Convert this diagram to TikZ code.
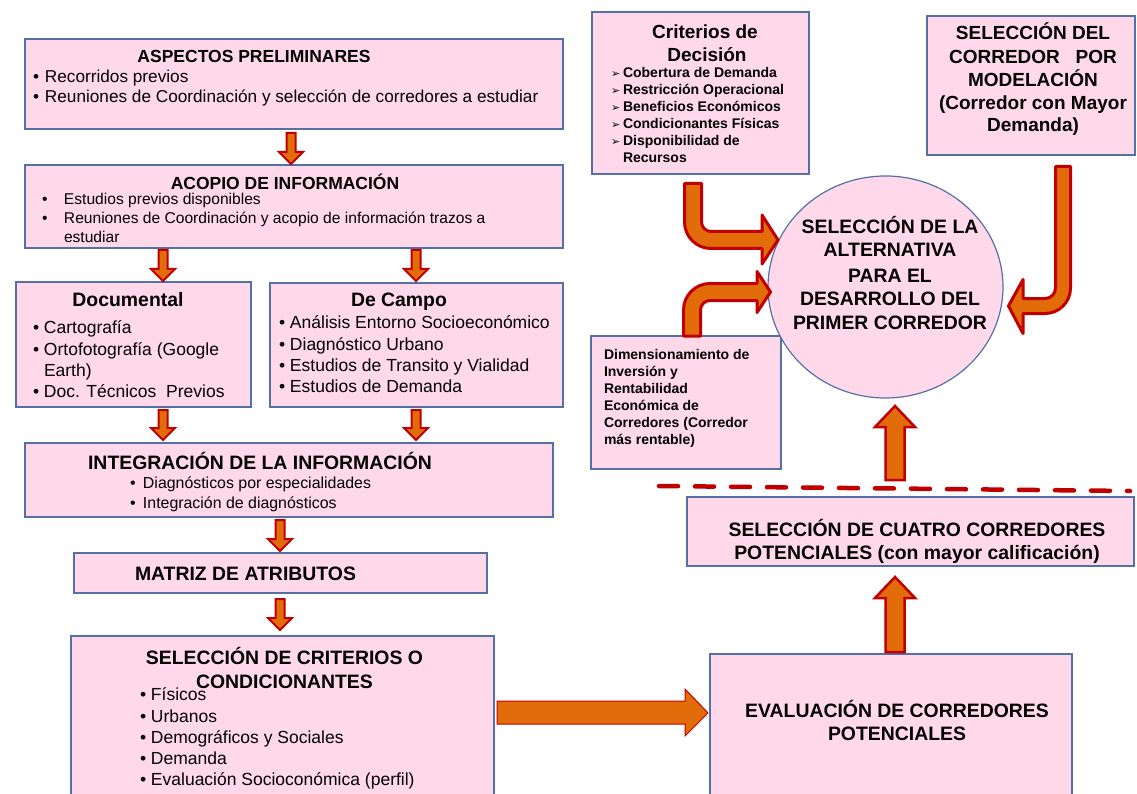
\documentclass[tikz,border=0pt]{standalone}
\usepackage{fontspec}
\setmainfont{Liberation Sans}
\newfontfamily\symfont{DejaVu Sans}
\usetikzlibrary{fit,shapes.geometric}
\definecolor{boxfill}{RGB}{255,217,234}
\definecolor{boxline}{RGB}{84,112,165}
\definecolor{arrfill}{RGB}{227,108,10}
\definecolor{arrline}{RGB}{192,0,0}
\newcommand\fsz[2]{\fontsize{#1}{#2}\selectfont}
\newcommand\dnarrow[3]{%
  \draw[smarrow] ({#1-4.5},#2) -- ({#1+4.5},#2) -- ({#1+4.5},{#3-12}) -- ({#1+12},{#3-12}) -- (#1,#3) -- ({#1-12},{#3-12}) -- ({#1-4.5},{#3-12}) -- cycle;}
\newcommand\uparr[3]{%
  \draw[uparrow] ({#1-9.5},#2) -- ({#1+9.5},#2) -- ({#1+9.5},{#3+21}) -- ({#1+20},{#3+21}) -- (#1,#3) -- ({#1-20},{#3+21}) -- ({#1-9.5},{#3+21}) -- cycle;}
\begin{document}
\begin{tikzpicture}[x=1pt,y=-1pt,
  box/.style={draw=boxline, fill=boxfill, line width=1.2pt, inner sep=0pt, rectangle},
  tx/.style={inner sep=0pt, outer sep=0pt},
  smarrow/.style={draw=arrline, fill=arrfill, line width=2pt, line join=miter},
  uparrow/.style={draw=arrline, fill=arrfill, line width=2.5pt, line join=miter},
  bent/.style={draw=arrline, fill=arrfill, line width=3pt, line join=round},
  hd/.style={tx, anchor=base, font=\bfseries\fsz{19.4}{23}},
  ]
\useasboundingbox (0,0) rectangle (1137,794);
\clip (0,0) rectangle (1137,794);

% boxes
\node[box, fit={(25,39)(563,129)}] (asp) {};
\node[box, fit={(25,165)(563,248)}] (aco) {};
\node[box, fit={(16,282)(251,407)}] (doc) {};
\node[box, fit={(270,283)(563,407)}] (cam) {};
\node[box, fit={(25,443)(553,517)}] (int) {};
\node[box, fit={(74,553)(487,593)}] (mat) {};
\node[box, fit={(71,636)(494,800)}] (sel) {};
\node[box, fit={(592,12)(809,174)}] (cri) {};
\node[box, fit={(927,16)(1135,155)}] (mod) {};
\node[box, fit={(591,336)(781,469)}] (dim) {};
\node[box, fit={(687,497)(1134,566)}] (cua) {};
\node[box, fit={(710,654)(1072,800)}] (eva) {};
\node[box, ellipse, minimum width=235pt, minimum height=222pt] (alt) at (885.5,287) {};

% small down arrows
\dnarrow{291}{133}{164}
\dnarrow{163}{250}{281}
\dnarrow{416}{250}{281}
\dnarrow{163}{410}{440}
\dnarrow{416}{410}{440}
\dnarrow{280}{520}{551}
\dnarrow{280}{599}{630}

% big up arrows
\uparr{895}{480}{406}
\uparr{895}{652}{577}

% big right arrow
\draw[draw=arrline, fill=arrfill, line width=1pt] (497,701) -- (685,701) -- (685,689) -- (708,713) -- (685,736) -- (685,724) -- (497,724) -- cycle;

% bent arrows
\draw[bent] (684.5,183.5) -- (684.5,222) .. controls (684.5,236.6) and (696.4,248.5) .. (711,248.5) -- (762,248.5) -- (762,264) -- (778,240) -- (762,215) -- (762,231.5) -- (711,231.5) .. controls (705.8,231.5) and (701.5,227.2) .. (701.5,222) -- (701.5,183.5) -- cycle;
\draw[bent] (683.5,336) -- (683.5,310) .. controls (683.5,295.4) and (695.4,283.5) .. (710,283.5) -- (757,283.5) -- (757,271.5) -- (770.5,292) -- (757,312.5) -- (757,300.5) -- (710,300.5) .. controls (704.8,300.5) and (700.5,304.8) .. (700.5,310) -- (700.5,336) -- cycle;
\draw[bent] (1070.5,166.5) -- (1070.5,288) .. controls (1070.5,302.1) and (1059.1,313.5) .. (1045,313.5) -- (1023,313.5) -- (1023,333.5) -- (1008.5,306) -- (1023,279.5) -- (1023,298.5) -- (1045,298.5) .. controls (1050.8,298.5) and (1055.5,293.8) .. (1055.5,288) -- (1055.5,166.5) -- cycle;

% dashed separator
\draw[arrline, line width=4.5pt, line cap=round, dash pattern=on 19pt off 17pt] (659,486) -- (1130,491);

% ASPECTOS
\node[tx, anchor=base, font=\bfseries\fsz{17.5}{21}] (aspT) at (254,63) {ASPECTOS PRELIMINARES};
\node[tx, anchor=base west, font=\fsz{17.2}{21}] (asp1) at (33,83) {\makebox[12pt][l]{•}Recorridos previos};
\node[tx, anchor=base west, font=\fsz{17.2}{21}] (asp2) at (33,103) {\makebox[12pt][l]{•}Reuniones de Coordinación y selección de corredores a estudiar};

% ACOPIO
\node[tx, anchor=base, font=\bfseries\fsz{17.5}{21}] (acoT) at (285,190) {ACOPIO DE INFORMACIÓN};
\node[tx, anchor=base west, font=\fsz{15.6}{19}] (aco1) at (42,205) {\makebox[22pt][l]{•}Estudios previos disponibles};
\node[tx, anchor=base west, font=\fsz{15.6}{19}] (aco2) at (42,224) {\makebox[22pt][l]{•}Reuniones de Coordinación y acopio de información trazos a};
\node[tx, anchor=base west, font=\fsz{15.6}{19}] (aco3) at (64,243) {estudiar};

% Documental
\node[hd] (docT) at (128,306) {Documental};
\node[tx, anchor=base west, font=\fsz{17.5}{21}] (doc1) at (33,333) {\makebox[11pt][l]{•}Cartografía};
\node[tx, anchor=base west, font=\fsz{17.5}{21}] (doc2) at (33,355) {\makebox[11pt][l]{•}Ortofotografía (Google};
\node[tx, anchor=base west, font=\fsz{17.5}{21}] (doc3) at (44,376) {Earth)};
\node[tx, anchor=base west, font=\fsz{17.5}{21}] (doc4) at (33,397) {\makebox[11pt][l]{•}Doc. Técnicos\ \ Previos};

% De Campo
\node[hd] (camT) at (399,306) {De Campo};
\node[tx, anchor=base west, font=\fsz{17.5}{21}] (cam1) at (279,328) {\makebox[11pt][l]{•}Análisis Entorno Socioeconómico};
\node[tx, anchor=base west, font=\fsz{17.5}{21}] (cam2) at (279,350) {\makebox[11pt][l]{•}Diagnóstico Urbano};
\node[tx, anchor=base west, font=\fsz{17.5}{21}] (cam3) at (279,371) {\makebox[11pt][l]{•}Estudios de Transito y Vialidad};
\node[tx, anchor=base west, font=\fsz{17.5}{21}] (cam4) at (279,392) {\makebox[11pt][l]{•}Estudios de Demanda};

% INTEGRACION
\node[hd] (intT) at (260,469) {INTEGRACIÓN DE LA INFORMACIÓN};
\node[tx, anchor=base west, font=\fsz{15.9}{19}] (int1) at (130,488) {\makebox[13pt][l]{•}Diagnósticos por especialidades};
\node[tx, anchor=base west, font=\fsz{15.9}{19}] (int2) at (130,508) {\makebox[13pt][l]{•}Integración de diagnósticos};

% MATRIZ
\node[hd, anchor=base west] (matT) at (135,580) {MATRIZ DE ATRIBUTOS};

% SELECCION CRITERIOS
\node[hd] (selT1) at (284.5,664) {SELECCIÓN DE CRITERIOS O};
\node[hd] (selT2) at (284.5,688) {CONDICIONANTES};
\node[tx, anchor=base west, font=\fsz{17.5}{21}] (sel1) at (140,700) {\makebox[11pt][l]{•}Físicos};
\node[tx, anchor=base west, font=\fsz{17.5}{21}] (sel2) at (140,722) {\makebox[11pt][l]{•}Urbanos};
\node[tx, anchor=base west, font=\fsz{17.5}{21}] (sel3) at (140,743) {\makebox[11pt][l]{•}Demográficos y Sociales};
\node[tx, anchor=base west, font=\fsz{17.5}{21}] (sel4) at (140,764) {\makebox[11pt][l]{•}Demanda};
\node[tx, anchor=base west, font=\fsz{17.5}{21}] (sel5) at (140,785) {\makebox[11pt][l]{•}Evaluación Socioconómica (perfil)};

% Criterios de decision
\node[tx, anchor=base, font=\bfseries\fsz{19}{23}] (criT1) at (705,38.5) {Criterios de};
\node[tx, anchor=base, font=\bfseries\fsz{19}{23}] (criT2) at (707,61.5) {Decisión};
\node[tx, anchor=base west, font=\bfseries\fsz{14}{17}] (cri1) at (611,77.5) {\makebox[12pt][l]{\symfont\fsz{11}{12}➢}Cobertura de Demanda};
\node[tx, anchor=base west, font=\bfseries\fsz{14}{17}] (cri2) at (611,94.5) {\makebox[12pt][l]{\symfont\fsz{11}{12}➢}Restricción Operacional};
\node[tx, anchor=base west, font=\bfseries\fsz{14}{17}] (cri3) at (611,111.5) {\makebox[12pt][l]{\symfont\fsz{11}{12}➢}Beneficios Económicos};
\node[tx, anchor=base west, font=\bfseries\fsz{14}{17}] (cri4) at (611,128.5) {\makebox[12pt][l]{\symfont\fsz{11}{12}➢}Condicionantes Físicas};
\node[tx, anchor=base west, font=\bfseries\fsz{14}{17}] (cri5) at (611,145.5) {\makebox[12pt][l]{\symfont\fsz{11}{12}➢}Disponibilidad de};
\node[tx, anchor=base west, font=\bfseries\fsz{14}{17}] (cri6) at (623,162.5) {Recursos};

% Seleccion por modelacion
\node[tx, anchor=base, font=\bfseries\fsz{19}{23}] (mod1) at (1033,40) {SELECCIÓN DEL};
\node[tx, anchor=base, font=\bfseries\fsz{19}{23}] (mod2) at (1033,64) {CORREDOR\ \ \ POR};
\node[tx, anchor=base, font=\bfseries\fsz{19}{23}] (mod3) at (1033,87) {MODELACIÓN};
\node[tx, anchor=base, font=\bfseries\fsz{19}{23}] (mod4) at (1033,110) {(Corredor con Mayor};
\node[tx, anchor=base, font=\bfseries\fsz{19}{23}] (mod5) at (1033,132) {Demanda)};

% circle text
\node[hd] (alt1) at (890,234) {SELECCIÓN DE LA};
\node[hd] (alt2) at (890,257) {ALTERNATIVA};
\node[hd] (alt3) at (890,282) {PARA EL};
\node[hd] (alt4) at (890,305) {DESARROLLO DEL};
\node[hd] (alt5) at (890,329) {PRIMER CORREDOR};

% Dimensionamiento
\node[tx, anchor=base west, font=\bfseries\fsz{14}{17}] (dim1) at (604,359) {Dimensionamiento de};
\node[tx, anchor=base west, font=\bfseries\fsz{14}{17}] (dim2) at (604,376) {Inversión y};
\node[tx, anchor=base west, font=\bfseries\fsz{14}{17}] (dim3) at (604,393) {Rentabilidad};
\node[tx, anchor=base west, font=\bfseries\fsz{14}{17}] (dim4) at (604,410) {Económica de};
\node[tx, anchor=base west, font=\bfseries\fsz{14}{17}] (dim5) at (604,427) {Corredores (Corredor};
\node[tx, anchor=base west, font=\bfseries\fsz{14}{17}] (dim6) at (604,444) {más rentable)};

% cuatro corredores
\node[hd] (cua1) at (917,536) {SELECCIÓN DE CUATRO CORREDORES};
\node[hd] (cua2) at (917,559) {POTENCIALES (con mayor calificación)};

% evaluacion
\node[hd] (eva1) at (897,717) {EVALUACIÓN DE CORREDORES};
\node[hd] (eva2) at (897,740) {POTENCIALES};
\end{tikzpicture}
\end{document}
